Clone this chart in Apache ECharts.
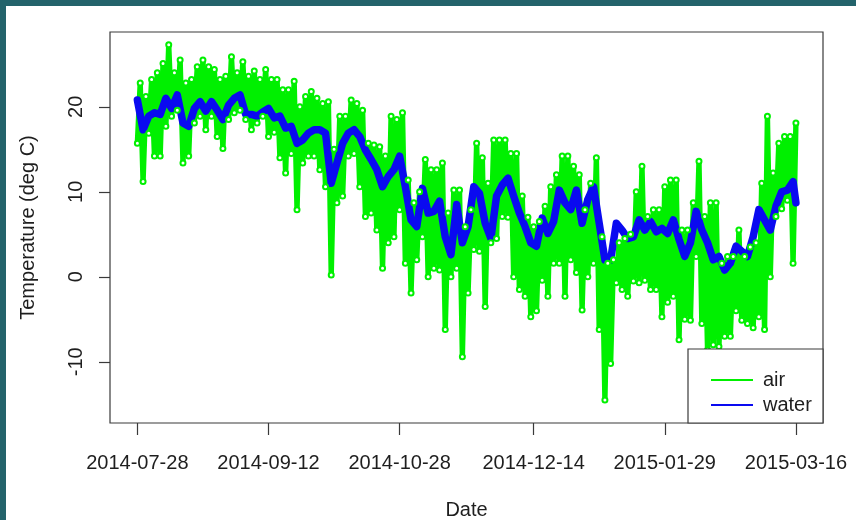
<!DOCTYPE html>
<html>
<head>
<meta charset="utf-8">
<title>Air and water temperature</title>
<script src="https://cdn.jsdelivr.net/npm/echarts@6/dist/echarts.min.js"></script>
<style>
  html, body { margin: 0; padding: 0; background: #ffffff; }
  #chart { width: 856px; height: 520px; }
</style>
</head>
<body>
<div id="chart"></div>
<script>
// Logger record, sampled every two days from the first reading
const startDate = '2014-07-28';
const sampleStepDays = 2;

// Date ticks along the bottom axis and temperature ticks on the left
const tickLabels = ['2014-07-28', '2014-09-12', '2014-10-28', '2014-12-14', '2015-01-29', '2015-03-16'];
const yTicks = [-10, 0, 10, 20];

// Water temperature (deg C), one reading per sample, last one on the final day
const waterTemp = [
  20.8, 17.3, 18.9, 19.3, 19.1, 21.0, 19.8, 21.4, 18.1, 17.7, 19.8, 20.6, 19.5, 20.6, 19.6, 18.5, 20.2, 21.0, 21.4, 19.1, 19.1, 18.9, 19.4,
  19.8, 18.7, 18.9, 17.5, 17.7, 15.7, 16.1, 16.9, 17.3, 17.3, 16.9, 11.0, 13.4, 15.7, 16.9, 17.3, 16.5, 14.9, 13.8, 12.6, 10.6, 11.8, 12.6,
  14.2, 10.6, 6.7, 5.9, 10.4, 7.5, 7.7, 8.9, 4.7, 2.6, 8.5, 4.0, 5.9, 10.6, 9.8, 6.3, 4.5, 9.5, 10.8, 11.6, 9.5, 7.5,
  5.9, 4.0, 3.6, 6.9, 5.1, 6.5, 10.2, 8.7, 7.9, 10.2, 6.3, 9.1, 10.6, 6.3, 2.0, 2.0, 6.3, 5.5, 4.5, 4.7, 6.7, 5.5, 6.5,
  5.3, 5.7, 5.1, 6.7, 4.4, 2.4, 4.0, 7.7, 5.5, 4.0, 2.0, 2.4, 0.8, 1.6, 3.6, 3.0, 2.4, 4.7, 7.9, 6.7, 5.5, 8.3, 10.0, 10.2, 11.2,
  8.7
];

// Air temperature (deg C): daily high and low within each sample window
const airHigh = [
  22.8, 21.2, 23.2, 24.0, 25.1, 27.3, 24.0, 25.5, 22.8, 23.2, 24.7, 25.5, 24.7, 24.4, 23.2, 23.6, 25.9, 24.0, 25.3, 23.6, 24.2, 23.2, 24.4,
  23.2, 23.2, 22.0, 22.0, 23.0, 20.0, 21.2, 21.8, 21.0, 20.4, 20.6, 15.0, 18.9, 18.9, 20.8, 20.4, 19.6, 15.7, 15.5, 15.3, 14.2, 18.9, 18.5,
  19.3, 11.4, 8.7, 10.0, 13.8, 12.6, 12.6, 13.4, 7.5, 10.2, 10.2, 5.9, 7.9, 15.7, 14.0, 11.0, 16.1, 16.1, 16.1, 14.5, 14.5, 9.5,
  7.0, 5.9, 6.5, 8.3, 10.6, 12.0, 14.2, 14.2, 13.0, 12.0, 7.9, 11.0, 14.0, 4.7, 1.6, 2.0, 4.0, 4.5, 5.0, 10.0, 13.0, 7.1, 7.9,
  7.9, 10.6, 11.4, 11.4, 5.5, 5.5, 8.7, 13.6, 7.1, 8.7, 8.7, 1.6, 2.4, 2.4, 5.5, 2.4, 3.5, 4.0, 11.0, 18.9, 12.2, 15.7, 16.5, 16.5, 18.1
];
const airLow = [
  15.7, 11.2, 16.9, 14.2, 14.2, 17.7, 18.9, 19.6, 13.4, 14.2, 18.1, 18.9, 17.3, 18.9, 16.5, 15.1, 18.5, 19.3, 19.6, 18.5, 17.3, 18.1, 18.9,
  16.5, 17.0, 14.0, 12.2, 14.5, 7.9, 13.4, 14.2, 14.2, 12.6, 10.6, 0.2, 8.7, 9.5, 14.2, 14.5, 10.6, 7.1, 7.5, 5.5, 1.0, 4.0, 4.7,
  7.9, 1.6, -1.9, 2.0, 4.7, 0.0, 1.0, 0.8, -6.2, 0.0, 1.0, -9.4, -1.9, 3.2, 3.0, -3.5, 4.0, 4.5, 7.1, 7.0, 0.0, -1.5,
  -2.3, -4.7, -4.0, -0.4, -2.3, 1.6, 1.6, -2.3, 2.0, 0.5, -3.9, 0.0, 1.6, -6.2, -14.5, -10.2, -0.7, -1.5, -2.3, -0.5, -0.7, -0.4, -1.5,
  -1.5, -4.7, -3.0, -2.3, -7.4, -5.0, -5.1, 2.4, -5.5, -8.6, -8.0, -8.2, -7.0, -7.0, -4.0, -5.1, -5.5, -6.0, -4.7, -6.2, 0.0, 7.1, 8.0, 9.0, 1.6
];

// Days are counted from the first reading
const DAY_MS = 86400000;
const dayOf = s => (Date.parse(s) - Date.parse(startDate)) / DAY_MS;
const tickDays = tickLabels.map(dayOf);
const lastDay = tickDays[tickDays.length - 1];
const labelFor = v => {
  const i = tickDays.findIndex(d => Math.abs(d - v) < 0.01);
  return i >= 0 ? tickLabels[i] : '';
};

// Air swings between its low and high each window; water is a single reading
const airData = [];
airLow.forEach((lo, k) => {
  const d = k * sampleStepDays;
  airData.push([d, lo]);
  airData.push([Math.min(d + 1, lastDay), airHigh[k]]);
});
const waterData = waterTemp.map((v, i) => [Math.min(i * sampleStepDays, lastDay), v]);

const FONT = '"Liberation Sans", Arial, Helvetica, sans-serif';
const INK = '#1e1e1e';
const FRAME = '#3a3a3a';
const AIR = '#00f000';
const WATER = '#0a0af0';

const chart = echarts.init(document.getElementById('chart'), null, { renderer: 'canvas' });
chart.setOption({
  animation: false,
  backgroundColor: '#ffffff',
  textStyle: { fontFamily: FONT },
  grid: {
    left: 110, top: 32, right: 33, bottom: 97,
    outerBoundsMode: 'none', containLabel: false,
    show: true, borderColor: FRAME, borderWidth: 1.2, backgroundColor: 'transparent'
  },
  xAxis: {
    type: 'value', min: -9.6, max: 240.5,
    name: 'Date', nameLocation: 'middle', nameGap: 77,
    nameTextStyle: { fontSize: 20, color: INK, fontFamily: FONT },
    axisLine: { show: false, onZero: false },
    splitLine: { show: false },
    axisTick: { show: true, customValues: tickDays, length: 12, lineStyle: { color: FRAME, width: 1.2 } },
    axisLabel: { customValues: tickDays, formatter: labelFor, fontSize: 20, color: INK, margin: 30, fontFamily: FONT }
  },
  yAxis: {
    type: 'value', min: -17.2, max: 28.8,
    name: 'Temperature (deg C)', nameLocation: 'middle', nameGap: 72,
    nameTextStyle: { fontSize: 20, color: INK, fontFamily: FONT },
    axisLine: { show: false, onZero: false },
    splitLine: { show: false },
    axisTick: { show: true, customValues: yTicks, length: 11, lineStyle: { color: FRAME, width: 1.2 } },
    axisLabel: { customValues: yTicks, rotate: 90, fontSize: 20, color: INK, margin: 24, fontFamily: FONT }
  },
  legend: {
    left: 706, top: 365, orient: 'vertical', icon: 'rect',
    itemWidth: 42, itemHeight: 2, itemGap: 5, z: 20,
    itemStyle: { borderWidth: 0 },
    textStyle: { fontSize: 20, color: INK, fontFamily: FONT, padding: [0, 0, 0, 5] },
    data: ['air', 'water']
  },
  graphic: [
    { type: 'rect', z: 10, shape: { x: 688, y: 349, width: 135, height: 74 },
      style: { fill: '#ffffff', stroke: FRAME, lineWidth: 1.2 } },
    { type: 'rect', z: 100, shape: { x: 0, y: 0, width: 856, height: 6 }, style: { fill: '#23636b' } },
    { type: 'rect', z: 100, shape: { x: 0, y: 0, width: 6, height: 520 }, style: { fill: '#23636b' } }
  ],
  series: [
    {
      name: 'air', type: 'line', data: airData,
      color: AIR,
      symbol: 'emptyCircle', symbolSize: 5, showSymbol: true,
      itemStyle: { color: AIR, borderColor: AIR, borderWidth: 1.2 },
      lineStyle: { color: AIR, width: 5.4, join: 'round' },
      emphasis: { disabled: true }
    },
    {
      name: 'water', type: 'line', data: waterData,
      color: WATER, showSymbol: false, symbol: 'none',
      lineStyle: { color: WATER, width: 7.5, join: 'round', cap: 'round' },
      emphasis: { disabled: true }
    }
  ]
});
</script>
</body>
</html>
